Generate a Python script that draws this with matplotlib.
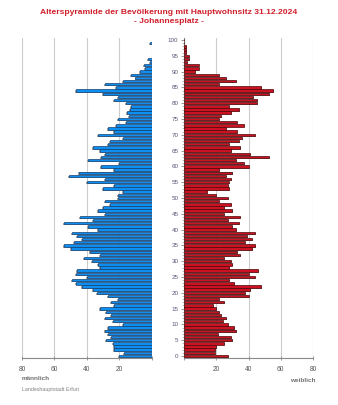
import numpy as np
import matplotlib
matplotlib.use("Agg")
import matplotlib.pyplot as plt
from matplotlib.ticker import MultipleLocator

plt.rcParams['font.family'] = ['Liberation Sans', 'DejaVu Sans']

# Alter 0..100
alter = np.arange(0, 101)

# maennlich, Alter 0..100
maennlich = [20, 17, 23, 23, 24, 28, 25, 27, 29, 27,
             18, 24, 29, 25, 28, 32, 23, 25, 21, 27,
             34, 36, 43, 47, 49, 40, 47, 46, 32, 33,
             37, 42, 32, 38, 50, 54, 48, 43, 46, 49,
             33, 39, 54, 36, 44, 29, 33, 30, 26, 29,
             21, 21, 18, 30, 23, 40, 29, 51, 45, 23,
             31, 20, 39, 31, 29, 32, 36, 27, 26, 18,
             33, 23, 27, 22, 16, 21, 14, 15, 13.5, 13,
             16, 23, 21, 30, 47, 22, 29, 18, 10, 13,
             7, 4, 5, 1, 2, 0, 0, 0, 0, 1, 0]

# weiblich, Alter 0..100
weiblich = [27, 19, 19, 20, 25, 30, 29, 21, 32, 31,
            27, 24, 26, 23, 22, 20, 18, 25, 22, 40,
            38, 41, 48, 31, 28, 44, 40, 46, 28, 30,
            29, 25, 35, 33, 42, 44, 38, 42, 39, 44,
            32, 30, 34, 27, 35, 25, 30, 25, 29, 22,
            27, 20, 14, 28, 27, 28, 29, 26, 30, 22,
            40, 37, 32, 53, 41, 29, 35, 28, 34, 36,
            44, 33, 26, 37, 33, 22, 23, 29, 34, 28,
            45, 45, 43, 53, 55, 48, 22, 32, 26, 22,
            7, 9, 9, 2, 3, 3, 1, 1, 1, 0, 0]

blau = '#0c8ff0'
blau_rand = '#17406e'
rot = '#cc1122'
rot_rand = '#4a0a0a'
titelrot = '#d0202c'
grau = '#8a8a8a'

fig = plt.figure(figsize=(3.38, 4.05), dpi=100)
fig.patch.set_facecolor('white')

unten = (405 - 357.9) / 405
hoehe = 319.8 / 405
ax1 = fig.add_axes([22 / 338, unten, 129.7 / 338, hoehe])
ax2 = fig.add_axes([184 / 338, unten, 129 / 338, hoehe])

m = np.array(maennlich)
w = np.array(weiblich)

# Schatten hinter den Balken
ax1.barh(alter - 0.3, np.where(m > 0, m + 0.6, 0), height=0.75, color='#a0a0a0', lw=0, zorder=2)
ax2.barh(alter - 0.3, np.where(w > 0, w + 0.6, 0), height=0.75, color='#a0a0a0', lw=0, zorder=2)

ax1.barh(alter, m, height=0.75, color=blau, edgecolor=blau_rand, linewidth=0.5, zorder=3)
ax2.barh(alter, w, height=0.75, color=rot, edgecolor=rot_rand, linewidth=0.5, zorder=3)

for ax in (ax1, ax2):
    ax.set_ylim(-0.6, 100.6)
    ax.set_xticks([0, 20, 40, 60, 80])
    ax.set_xticklabels(['', '20', '40', '60', '80'])
    ax.tick_params(axis='x', direction='inout', length=3, width=0.6, color=grau,
                   labelsize=4.8, labelcolor='#555555', pad=4)
    ax.grid(axis='x', color='#cccccc', linewidth=0.8, zorder=0)
    ax.set_axisbelow(True)
    for s in ('top', 'right', 'left'):
        ax.spines[s].set_visible(False)
    ax.spines['bottom'].set_color(grau)
    ax.spines['bottom'].set_linewidth(0.8)

ax1.set_xlim(80, 0)
ax1.set_yticks([])
ax2.set_xlim(0, 80)

ax2.spines['left'].set_visible(True)
ax2.spines['left'].set_color(grau)
ax2.spines['left'].set_linewidth(0.8)
ax2.yaxis.set_major_locator(MultipleLocator(5))
ax2.yaxis.set_minor_locator(MultipleLocator(1))
ax2.tick_params(axis='y', which='major', direction='out', length=2.5, width=0.6, color=grau,
                labelsize=4.5, labelcolor='#555577', pad=1.5)
ax2.tick_params(axis='y', which='minor', direction='out', length=1.2, width=0.4, color=grau)

fig.text(0.5, 1 - 13 / 405, 'Alterspyramide der Bevölkerung mit Hauptwohnsitz 31.12.2024',
         ha='center', va='center', fontsize=6.1, fontweight='bold', color=titelrot)
fig.text(0.5, 1 - 21.7 / 405, '- Johannesplatz -',
         ha='center', va='center', fontsize=6.1, fontweight='bold', color=titelrot)

fig.text(22 / 338, 1 - 379 / 405, 'männlich', ha='left', va='center',
         fontsize=4.6, fontweight='bold', color='#707070')
fig.text(316 / 338, 1 - 380 / 405, 'weiblich', ha='right', va='center',
         fontsize=4.6, fontweight='bold', color='#707070')
fig.text(22 / 338, 1 - 390 / 405, 'Landeshauptstadt Erfurt', ha='left', va='center',
         fontsize=3.8, color='#808080')

fig.savefig('out.png', dpi=100)
